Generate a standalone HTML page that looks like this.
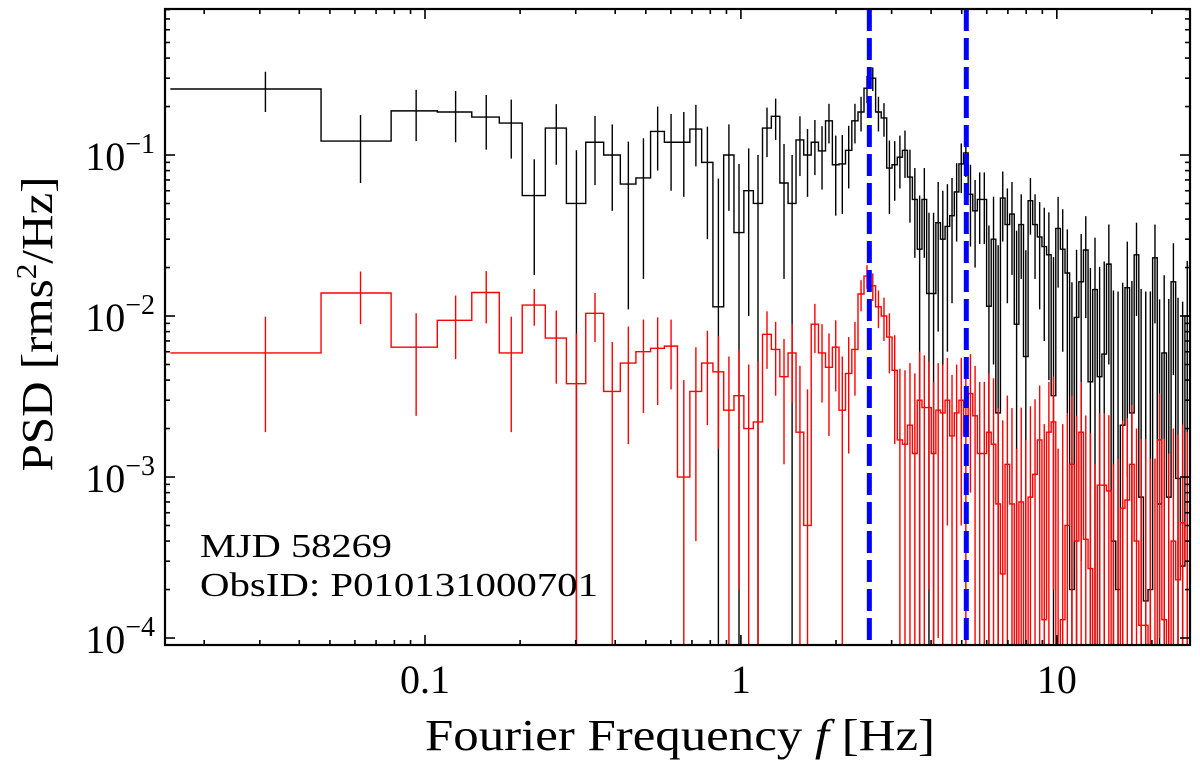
<!DOCTYPE html>
<html><head><meta charset="utf-8"><style>
html,body{margin:0;padding:0;background:#fff;}
svg{display:block;font-family:"Liberation Serif",serif;}
</style></head><body>
<svg id="chart" width="1200" height="766" viewBox="0 0 1200 766">
  <defs><clipPath id="plotclip"><rect x="165" y="9" width="1025" height="636"/></clipPath></defs>
  <rect x="0" y="0" width="1200" height="766" fill="#fff"/>
  <g id="series" clip-path="url(#plotclip)"></g>
  <g id="axes"></g>
  <text x="680" y="750" font-size="44" text-anchor="middle" textLength="510" lengthAdjust="spacingAndGlyphs">Fourier Frequency <tspan font-style="italic">f</tspan> [Hz]</text>
  <text transform="translate(52,324) rotate(-90)" font-size="44" text-anchor="middle" textLength="295" lengthAdjust="spacingAndGlyphs">PSD [rms<tspan dy="-16" font-size="28">2</tspan><tspan dy="16">/Hz]</tspan></text>
  <text x="200" y="557" font-size="34" textLength="192" lengthAdjust="spacingAndGlyphs">MJD 58269</text>
  <text x="200" y="596" font-size="34" textLength="398" lengthAdjust="spacingAndGlyphs">ObsID: P010131000701</text>
</svg>
<script>
// ---- data ----
const blackPower = [0.257,0.122,0.188,0.185,0.172,0.158,
0.056,0.147,0.05,0.12,0.10,0.066,0.072,0.14,0.12,0.12,
0.145,0.09,0.0114,0.10,0.033,0.06,0.05,0.147,0.174,0.067,
0.05,0.124,0.10,0.12,0.106,0.163,0.087,0.088,0.107,0.163,
0.185,0.26,0.30,0.185,0.17,0.083,0.087,0.097,0.107,0.073,
0.053,0.026,0.053,
0.0138,0.0138,0.038,0.03,0.036,0.042,0.059,0.088,0.103,0.057,
0.045,0.053,0.053,0.0115,0.03,0.0025,0.054,0.037,0.043,0.0089,
0.037,0.0056,0.052,0.037,0.031,0.027,0.024,0.0032,0.035,0.026,
0.0185,0.0002,0.0098,0.0163,0.0257,0.0039,0.0146,0.0042,0.0058,0.021,
0.0004,0.0002,0.0021,0.015,0.0025,0.024,0.00075,0.00017,0.0002,0.023,
0.00068,0.0059,0.00075,0.0163,0.00098,0.00028,0.01];
const blackErr = [0.072,0.055,0.066,0.065,0.064,0.063,
0.038,0.06,0.057,0.055,0.055,0.055,0.055,0.06,0.06,0.065,
0.06,0.06,0.06,0.055,0.055,0.05,0.05,0.05,0.05,0.05,
0.05,0.05,0.045,0.045,0.045,0.045,0.045,0.045,0.045,0.045,
0.045,0.05,0.05,0.045,0.04,0.04,0.035,0.035,0.035,0.035,
0.03,0.03,0.03,
0.03,0.03,0.03,0.03,0.03,0.03,0.03,0.03,0.03,0.03,
0.025,0.025,0.025,0.025,0.025,0.025,0.025,0.025,0.025,0.025,
0.02,0.02,0.02,0.02,0.02,0.02,0.02,0.02,0.02,0.02,
0.016,0.016,0.016,0.016,0.016,0.016,0.016,0.016,0.016,0.016,
0.014,0.014,0.014,0.014,0.014,0.014,0.014,0.014,0.014,0.014,
0.012,0.012,0.012,0.012,0.012,0.012,0.012];
const redPower = [0.0059,0.0139,0.0064,0.0094,0.014,0.0059,
0.0117,0.0073,0.0038,0.0104,0.0034,0.0051,0.006,0.0063,0.0065,0.001,
0.0034,0.0051,0.0045,0.0026,0.0032,0.002,0.0022,0.0077,0.0062,0.0042,
0.0059,0.0019,0.0005,0.0089,0.0059,0.0048,0.0064,0.0026,0.0044,0.0062,
0.0137,0.0177,0.0154,0.0114,0.0100,0.0074,0.0046,0.0017,0.0016,0.0021,
0.0014,0.003,0.0027,
0.0027,0.0014,0.0026,0.0025,0.003,0.0018,0.0025,0.003,0.0018,0.0033,
0.0024,0.0014,0.0014,0.0019,0.0016,0.00068,0.00025,0.0012,0.00068,-0.0005,
0.0007,-0.0003,0.00075,0.00104,0.0017,0.00013,0.0019,0.0022,-0.0005,0.00013,
0.0005,0.0012,0.0004,0.0019,0.00041,0.00027,-0.0004,0.00089,0.00089,0.00082,
-0.0004,-0.0003,0.00064,0.00072,0.0012,0.0004,0.00012,0.00012,-0.0003,-0.0003,
0.0017,0.00013,-0.0002,0.0004,0.00023,0.00052,0.0003];
const redErr = [0.004,0.005,0.004,0.004,0.005,0.004,
0.003,0.0035,0.004,0.0035,0.0035,0.0035,0.0035,0.0035,0.003,0.003,
0.003,0.003,0.003,0.003,0.003,0.003,0.003,0.003,0.003,0.003,
0.003,0.003,0.003,0.003,0.003,0.003,0.003,0.003,0.003,0.003,
0.003,0.003,0.003,0.003,0.003,0.003,0.003,0.003,0.003,0.003,
0.003,0.003,0.003,
0.0025,0.0025,0.0025,0.0025,0.0025,0.0025,0.0025,0.0025,0.0025,0.0025,
0.0025,0.0025,0.0025,0.0025,0.0025,0.002,0.002,0.002,0.002,0.002,
0.002,0.002,0.002,0.002,0.002,0.002,0.002,0.002,0.002,0.002,
0.002,0.002,0.002,0.002,0.002,0.0016,0.0016,0.0016,0.0016,0.0016,
0.0016,0.0016,0.0016,0.0016,0.0016,0.0016,0.0016,0.0016,0.0016,0.0016,
0.0016,0.0016,0.0016,0.0016,0.0016,0.0016,0.0016];
const qpoFreqs = [2.55, 5.17];
const xTickValues = [0.1, 1, 10];
const xTickLabels = ["0.1", "1", "10"];
const yTickExps = [-1, -2, -3, -4];

// ---- frequency bin edges (linear then logarithmic rebinning) ----
const binEdges = [];
for (let k = 0; k <= 6; k++) binEdges.push(0.015625 + k * 0.03125);
{
  let f = binEdges[binEdges.length - 1];
  while (binEdges.length < blackPower.length + 1) {
    const dlog = Math.max(0.0146, 0.07 * Math.pow(f / 0.22, -0.55));
    f = f * Math.pow(10, dlog);
    binEdges.push(f);
  }
}

// ---- axes ----
const L = 165, R = 1190, T = 9, B = 645;
const XMIN = Math.log10(0.01503), XMAX = Math.log10(26.4);
const YMIN = Math.log10(9.05e-5), YMAX = Math.log10(0.807);
function xs(f) { return L + (Math.log10(f) - XMIN) / (XMAX - XMIN) * (R - L); }
function ys(v) { if (v <= 0) return B + 40; return B - (Math.log10(v) - YMIN) / (YMAX - YMIN) * (B - T); }

const NS = "http://www.w3.org/2000/svg";
const series = document.getElementById('series');
const axes = document.getElementById('axes');
function mk(tag, attrs, parent) {
  const e = document.createElementNS(NS, tag);
  for (const k in attrs) e.setAttribute(k, attrs[k]);
  parent.appendChild(e);
  return e;
}

function drawSeries(vals, errs, color, name) {
  const g = mk('g', {}, series);
  
  
  let d = '';
  for (let i = 0; i < vals.length; i++) {
    const x0 = xs(binEdges[i]), x1 = xs(binEdges[i + 1]), y = ys(vals[i]);
    d += (i === 0 ? 'M' : 'L') + x0.toFixed(2) + ',' + y.toFixed(2) + 'L' + x1.toFixed(2) + ',' + y.toFixed(2);
  }
  const p = mk('path', { d: d, fill: 'none', stroke: color, 'stroke-width': 1.4 }, g);
  
  
  for (let i = 0; i < vals.length; i++) {
    const xc = xs((binEdges[i] + binEdges[i + 1]) / 2);
    const lo = vals[i] - errs[i], hi = vals[i] + errs[i];
    const e = mk('line', { x1: xc, x2: xc, y1: ys(hi), y2: ys(lo), stroke: color, 'stroke-width': 1.4 }, g);
    
    
  }
}
drawSeries(blackPower, blackErr, '#000', 'black');
drawSeries(redPower, redErr, '#ff0000', 'red');

qpoFreqs.forEach(function (f) {
  const l = mk('line', { x1: xs(f), x2: xs(f), y1: T, y2: B, stroke: '#0000ff', 'stroke-width': 5, 'stroke-dasharray': '22 7' }, series);
  
  
});

// frame
const fr = mk('rect', { x: L, y: T, width: R - L, height: B - T, fill: 'none', stroke: '#000', 'stroke-width': 2.2 }, axes);



// x ticks
for (let dec = -2; dec <= 1; dec++) {
  for (let m = 1; m <= 9; m++) {
    const f = m * Math.pow(10, dec);
    if (f < 0.01503 || f > 26.4) continue;
    const x = xs(f), len = m === 1 ? 10 : 5;
    const t1 = mk('line', { x1: x, x2: x, y1: B, y2: B - len, stroke: '#000', 'stroke-width': 1.6 }, axes);
    
    
    const t2 = mk('line', { x1: x, x2: x, y1: T, y2: T + len, stroke: '#000', 'stroke-width': 1.6 }, axes);
    
    
  }
}
xTickValues.forEach(function (f, i) {
  const t = mk('text', { x: xs(f), y: 693, 'font-size': 40, 'text-anchor': 'middle' }, axes);
  t.textContent = xTickLabels[i];
  
  
});
// y ticks
for (let dec = -5; dec <= -1; dec++) {
  for (let m = 1; m <= 9; m++) {
    const v = m * Math.pow(10, dec);
    if (v < 9.05e-5 || v > 0.807) continue;
    const y = ys(v), len = m === 1 ? 10 : 5;
    const t1 = mk('line', { x1: L, x2: L + len, y1: y, y2: y, stroke: '#000', 'stroke-width': 1.6 }, axes);
    
    
    const t2 = mk('line', { x1: R, x2: R - len, y1: y, y2: y, stroke: '#000', 'stroke-width': 1.6 }, axes);
    
    
  }
}
yTickExps.forEach(function (ex) {
  const y = ys(Math.pow(10, ex));
  const t = mk('text', { x: 155, y: y + 15, 'font-size': 40, 'text-anchor': 'end' }, axes);
  
  
  const a = document.createElementNS(NS, 'tspan'); a.textContent = '10'; t.appendChild(a);
  const b = document.createElementNS(NS, 'tspan');
  b.setAttribute('dy', '-17'); b.setAttribute('font-size', '28');
  b.textContent = '\u2212' + Math.abs(ex); t.appendChild(b);
});
</script>
</body></html>
